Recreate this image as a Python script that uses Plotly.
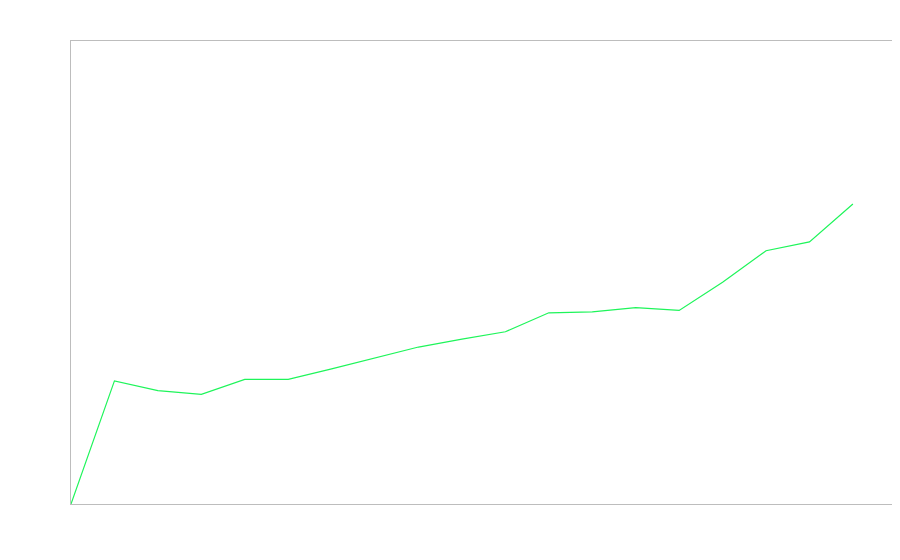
import plotly.graph_objects as go

x_index = list(range(19))
values = [0, 26.6, 24.5, 23.7, 26.9, 26.9, 29.2, 31.6, 33.9, 35.6, 37.2,
          41.3, 41.5, 42.4, 41.8, 47.9, 54.7, 56.6, 64.8]

fig = go.Figure()
fig.add_trace(go.Scatter(x=x_index, y=values, mode="lines",
                         line=dict(color="#1ef55a", width=1.2),
                         hoverinfo="skip", showlegend=False))

axis_style = dict(showline=True, mirror=True, linecolor="#bdbdbd", linewidth=1,
                  showgrid=False, zeroline=False, showticklabels=False, ticks="")
fig.update_layout(
    width=900, height=560,
    margin=dict(l=63, r=16, t=33, b=64),
    paper_bgcolor="white", plot_bgcolor="white",
    xaxis=dict(range=[0, 18.9], **axis_style),
    yaxis=dict(range=[0, 100], **axis_style),
)
fig.write_html("out.html")
